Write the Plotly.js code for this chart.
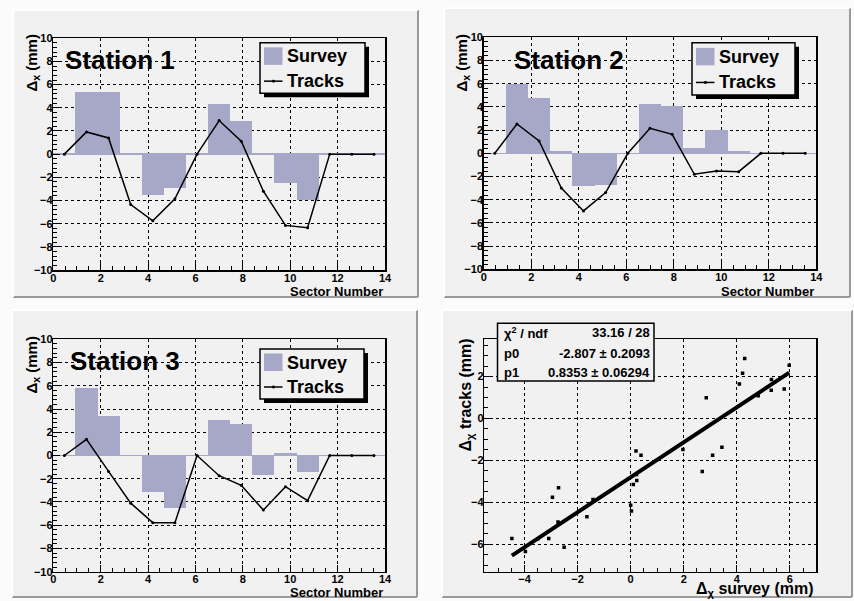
<!DOCTYPE html>
<html>
<head>
<meta charset="utf-8">
<script src="https://cdn.plot.ly/plotly-3.0.1.min.js"></script>
<style>html,body{margin:0;padding:0;background:#fbfbfb;}#chart{width:854px;height:601px;}</style>
</head>
<body>
<div id="chart"></div>
<script>
// ---- data ----
const sectorBins = [0,1,2,3,4,5,6,7,8,9,10,11,12,13,14];   // histogram bins (15 bins over 0..14)
const stationNames = ["Station 1","Station 2","Station 3"];
const seriesNames = ["Survey","Tracks"];
const s1Survey = [0, 5.35, 5.35, 0, -3.5, -2.95, 0, 4.35, 2.9, 0, -2.45, -3.95, 0, 0, 0];
const s1Tracks = [0, 1.92, 1.4, -4.35, -5.75, -3.85, 0, 2.9, 1.12, -3.2, -6.15, -6.35, 0, 0, 0];
const s2Survey = [0, 6.0, 4.8, 0.2, -2.8, -2.75, 0, 4.22, 4.08, 0.43, 2.0, 0.23, 0, 0, 0];
const s2Tracks = [0, 2.53, 1.06, -3.0, -4.97, -3.39, 0, 2.16, 1.64, -1.81, -1.52, -1.58, 0, 0, 0];
const s3Survey = [0, 5.78, 3.43, 0, -3.14, -4.52, 0, 3.08, 2.68, -1.65, 0.22, -1.45, 0, 0, 0];
const s3Tracks = [0, 1.39, -1.37, -4.1, -5.78, -5.78, 0, -1.74, -2.57, -4.69, -2.68, -3.89, 0, 0, 0];

const corrSurvey = [5.31, 5.30, 0.03, -3.50, -2.95, 4.30, 2.85, 0.10, -2.51, -3.97,
                    5.98, 4.81, 0.23, -2.74, -2.72, 4.22, 4.10, 0.39, 1.97, 0.20,
                    5.79, 3.44, 0.00, -3.09, -4.48, 3.09, 2.70, -1.65, 0.22, -1.42];
const corrTracks = [1.86, 1.35, -4.42, -5.75, -3.77, 2.86, 0.99, -3.15, -6.15, -6.36,
                    2.54, 1.08, -2.96, -4.95, -3.31, 2.16, 1.65, -1.76, -1.48, -1.55,
                    1.41, -1.38, -4.15, -5.74, -5.74, -1.76, -2.54, -4.69, -2.68, -3.87];
const fitChi2 = 33.16, fitNdf = 28;
const fitP0 = -2.807, fitP0Err = 0.2093;
const fitP1 = 0.8353, fitP1Err = 0.06294;

// ---- styling / layout ----
const W = 854, H = 601;
const FONT = "Liberation Sans, Arial, Helvetica, sans-serif";
const PAD = "#f1f1f1";
const SURVEY = "#a7a7c7";
const px = v => v / W, py = v => 1 - v / H;
const binLo = 0, binHi = 14, nBins = sectorBins.length;
const bw = (binHi - binLo) / nBins;
const centers = sectorBins.map(b => binLo + (b + 0.5) * bw);

const surveys = [s1Survey, s2Survey, s3Survey];
const tracks = [s1Tracks, s2Tracks, s3Tracks];
const axSuffix = ["", "2", "3"];

const traces = [];
for (let i = 0; i < 3; i++) {
  traces.push({
    type: "bar", x: centers, y: surveys[i], width: bw, name: seriesNames[0], showlegend: false,
    marker: {color: SURVEY, line: {width: 0}},
    xaxis: "x" + axSuffix[i], yaxis: "y" + axSuffix[i], hoverinfo: "skip"
  });
  traces.push({
    type: "scatter", mode: "lines+markers", x: centers, y: tracks[i], name: seriesNames[1], showlegend: false,
    line: {color: "#000", width: 1.5}, marker: {color: "#000", size: 3},
    xaxis: "x" + axSuffix[i], yaxis: "y" + axSuffix[i]
  });
}
traces.push({
  type: "scatter", mode: "markers", x: corrSurvey, y: corrTracks, showlegend: false,
  marker: {symbol: "square", size: 3.5, color: "#000"}, xaxis: "x4", yaxis: "y4"
});
const fx0 = Math.min(...corrSurvey), fx1 = Math.max(...corrSurvey);
traces.push({
  type: "scatter", mode: "lines", x: [fx0, fx1], y: [fitP0 + fitP1 * fx0, fitP0 + fitP1 * fx1],
  showlegend: false, line: {color: "#000", width: 4}, xaxis: "x4", yaxis: "y4"
});

const tickfont = {family: FONT, size: 11, color: "#000", weight: "bold"};
function axis(domain, range, dtick, minorDtick, anchor, extra) {
  return Object.assign({
    domain: domain, range: range, dtick: dtick, tick0: 0, anchor: anchor,
    showline: true, linecolor: "#000", linewidth: 1.5, mirror: true,
    ticks: "inside", ticklen: 7, tickwidth: 1, tickcolor: "#000",
    minor: {ticks: "inside", ticklen: 4, dtick: minorDtick, tickcolor: "#000", tickwidth: 1, showgrid: false},
    showgrid: true, gridcolor: "#000", griddash: "dot", gridwidth: 1,
    zeroline: false, tickfont: tickfont, fixedrange: true, ticklabelstandoff: -3
  }, extra || {});
}

const P = [ // plot areas in pixels [x0,x1,y0,y1]
  [53.3, 385, 38.3, 270],
  [483.7, 816.3, 37.3, 269.3],
  [53.3, 385, 339.3, 571.7],
  [484.3, 816.3, 339.3, 571.7]
];
const dx = p => [px(p[0]), px(p[1])];
const dy = p => [py(p[3]), py(p[2])];

const layout = {
  width: W, height: H, margin: {l: 0, r: 0, t: 0, b: 0},
  paper_bgcolor: "#fbfbfb", plot_bgcolor: "rgba(0,0,0,0)",
  font: {family: FONT, color: "#000"}, showlegend: false,
  barmode: "overlay", bargap: 0,
  xaxis: axis(dx(P[0]), [0, 14], 2, 0.5, "y"),
  yaxis: axis(dy(P[0]), [-10, 10], 2, 0.4, "x", {zeroline: true, zerolinecolor: SURVEY, zerolinewidth: 1.5}),
  xaxis2: axis(dx(P[1]), [0, 14], 2, 0.5, "y2"),
  yaxis2: axis(dy(P[1]), [-10, 10], 2, 0.4, "x2", {zeroline: true, zerolinecolor: SURVEY, zerolinewidth: 1.5}),
  xaxis3: axis(dx(P[2]), [0, 14], 2, 0.5, "y3"),
  yaxis3: axis(dy(P[2]), [-10, 10], 2, 0.4, "x3", {zeroline: true, zerolinecolor: SURVEY, zerolinewidth: 1.5}),
  xaxis4: axis(dx(P[3]), [-5.52, 7.0], 2, 0.5, "y4"),
  yaxis4: axis(dy(P[3]), [-7.32, 3.78], 2, 0.5, "x4"),
  shapes: [], annotations: []
};

function rect(x0, y0, x1, y1, fill, line, layer) {
  layout.shapes.push({type: "rect", xref: "paper", yref: "paper", layer: layer || "above",
    x0: px(x0), x1: px(x1), y0: py(y1), y1: py(y0), fillcolor: fill, line: line || {width: 0}});
}
function seg(x0, y0, x1, y1, color, width, layer) {
  layout.shapes.push({type: "line", xref: "paper", yref: "paper", layer: layer || "above",
    x0: px(x0), x1: px(x1), y0: py(y0), y1: py(y1), line: {color: color, width: width}});
}
function text(t, x, y, xa, ya, size, angle) {
  layout.annotations.push({text: t, xref: "paper", yref: "paper", x: px(x), y: py(y),
    xanchor: xa, yanchor: ya, textangle: angle || 0, showarrow: false,
    font: {family: FONT, size: size, color: "#000", weight: "bold"}});
}

// pads
const pads = [[13, 418, 10, 297], [444, 850, 8, 297], [12, 417, 310, 597], [442, 852, 310, 597]];
pads.forEach(p => {
  rect(p[0], p[2], p[1], p[3], PAD, null, "below");
  seg(p[0], p[3], p[1], p[3], "#9a9a9a", 2, "below");
  seg(p[1], p[2], p[1], p[3], "#9a9a9a", 2, "below");
  seg(p[0], p[2], p[1], p[2], "#ffffff", 2, "below");
  seg(p[0], p[2], p[0], p[3], "#ffffff", 2, "below");
});

// legends (box with drop shadow, swatch, line sample, labels)
const legendBoxes = [[260, 42.7, 365, 93.3], [692, 42.7, 795, 95], [260, 349, 364, 399]];
legendBoxes.forEach(b => {
  rect(b[0] + 4, b[1] + 4, b[2] + 4, b[3] + 4, "#000");
  rect(b[0], b[1], b[2], b[3], PAD, {color: "#000", width: 1.5});
  const h = b[3] - b[1];
  const r1 = b[1] + h * 0.27, r2 = b[1] + h * 0.76;
  rect(b[0] + 4, r1 - 9, b[0] + 22.5, r1 + 8.5, SURVEY);
  seg(b[0] + 4, r2, b[0] + 22.5, r2, "#000", 1.5);
  rect(b[0] + 12.2, r2 - 1.3, b[0] + 14.8, r2 + 1.3, "#000");
  text(seriesNames[0], b[0] + 25, r1, "left", "middle", 18);
  text(seriesNames[1], b[0] + 25, r2, "left", "middle", 18);
});

// station titles
const titlePos = [[120, 60], [568.5, 60], [125, 361]];
stationNames.forEach((t, i) => text(t, titlePos[i][0], titlePos[i][1], "center", "middle", 26));
// y titles for station panels
[[32, 33], [462, 33], [32, 335]].forEach(p => text("Δ<sub>x</sub> (mm)", p[0], p[1], "center", "top", 15, -90));
// x titles for station panels
[[385, 291], [816, 291], [385, 592]].forEach(p => text("Sector Number", p[0], p[1], "right", "middle", 13));
// panel 4 titles
text("Δ<sub>χ</sub> tracks (mm)", 466, 337, "center", "top", 16, -90);
text("Δ<sub>χ</sub> survey (mm)", 816, 589, "right", "middle", 16);

// fit statistics box
const sb = [497.5, 323.3, 654, 381];
rect(sb[0], sb[1], sb[2], sb[3], PAD, {color: "#000", width: 1.5});
const statRows = [
  ["χ<sup>2</sup> / ndf", fitChi2.toFixed(2) + " / " + fitNdf, 332.5],
  ["p0", fitP0.toFixed(3) + " ± " + fitP0Err.toFixed(4), 353],
  ["p1", fitP1.toFixed(4) + " ± " + fitP1Err.toFixed(5), 372.5]
];
statRows.forEach(r => {
  text(r[0], 502, r[2], "left", "middle", 13);
  text(r[1], 652, r[2], "right", "middle", 13);
});

Plotly.newPlot("chart", traces, layout, {displayModeBar: false, staticPlot: true});
</script>
</body>
</html>
